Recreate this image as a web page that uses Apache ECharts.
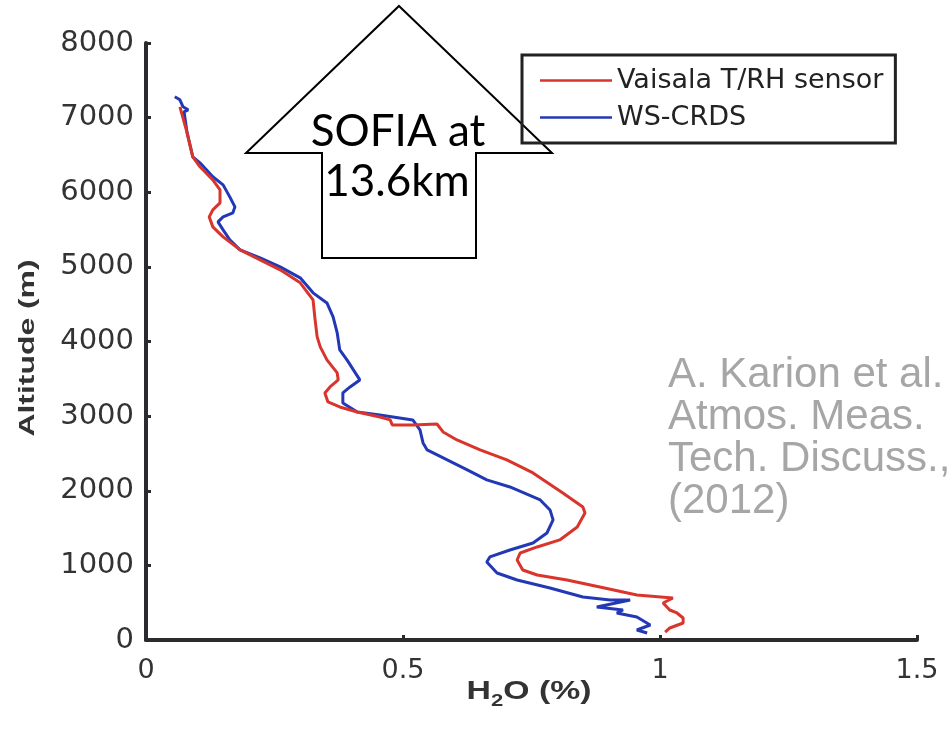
<!DOCTYPE html>
<html>
<head>
<meta charset="utf-8">
<script src="https://cdn.jsdelivr.net/npm/echarts@6/dist/echarts.min.js"></script>
<style>
  html, body { margin: 0; padding: 0; background: #fff; }
  #chart { width: 952px; height: 734px; }
</style>
</head>
<body>
<div id="chart"></div>
<script>
// Vaisala T/RH sensor profile (H2O %, altitude m)
const vaisalaH2O = [0.066, 0.080, 0.091, 0.105, 0.130, 0.144, 0.144, 0.130, 0.123, 0.130,
  0.150, 0.183, 0.222, 0.261, 0.300, 0.325, 0.329, 0.333, 0.339, 0.352,
  0.372, 0.374, 0.358, 0.348, 0.354, 0.377, 0.411, 0.455, 0.475, 0.479,
  0.519, 0.566, 0.578, 0.605, 0.650, 0.702, 0.753, 0.811, 0.850, 0.854,
  0.839, 0.805, 0.761, 0.728, 0.722, 0.733, 0.761, 0.819, 0.883, 0.955,
  1.025, 1.006, 1.019, 1.033, 1.045, 1.045, 1.019, 1.010]
const vaisalaAlt = [7145, 6796, 6475, 6341, 6166, 6032, 5858, 5764, 5670, 5536,
  5402, 5228, 5094, 4960, 4786, 4558, 4290, 4062, 3928, 3753,
  3579, 3485, 3391, 3311, 3190, 3123, 3056, 2989, 2949, 2882,
  2882, 2895, 2788, 2681, 2547, 2413, 2239, 1971, 1783, 1702,
  1515, 1341, 1247, 1166, 1072, 938, 871, 804, 710, 603,
  563, 496, 402, 362, 295, 228, 161, 107]

// WS-CRDS profile
const crdsH2O = [0.056, 0.066, 0.072, 0.082, 0.074, 0.080, 0.091, 0.105, 0.130, 0.150,
  0.163, 0.173, 0.169, 0.150, 0.140, 0.150, 0.163, 0.183, 0.222, 0.261,
  0.300, 0.325, 0.352, 0.364, 0.372, 0.377, 0.391, 0.416, 0.397, 0.383,
  0.383, 0.411, 0.455, 0.519, 0.533, 0.539, 0.547, 0.586, 0.625, 0.663,
  0.708, 0.767, 0.786, 0.792, 0.780, 0.753, 0.708, 0.669, 0.663, 0.683,
  0.722, 0.786, 0.850, 0.903, 0.942, 0.877, 0.928, 0.916, 0.955, 0.981,
  0.955, 0.975]
const crdsAlt = [7279, 7239, 7145, 7105, 7078, 6796, 6475, 6394, 6207, 6099,
  5938, 5804, 5724, 5670, 5603, 5496, 5362, 5228, 5121, 5000,
  4853, 4652, 4517, 4330, 4115, 3887, 3753, 3485, 3391, 3311,
  3177, 3056, 3016, 2949, 2815, 2641, 2547, 2413, 2279, 2145,
  2051, 1877, 1743, 1609, 1434, 1300, 1206, 1113, 1046, 898,
  804, 697, 576, 536, 536, 442, 402, 362, 308, 201,
  134, 94]

const seriesNames = ['Vaisala T/RH sensor', 'WS-CRDS']
const citeLines = ['A. Karion et al.', 'Atmos. Meas.', 'Tech. Discuss.,', '(2012)']

const axisColor = '#2b2b2f'
const tickFont = 'DejaVu Sans'
const pair = (xs, ys) => xs.map((x, i) => [x, ys[i]])

const chart = echarts.init(document.getElementById('chart'))
chart.setOption({
  animation: false,
  backgroundColor: '#fff',
  grid: { left: 146, right: 35, top: 43, bottom: 94 },
  legend: {
    data: seriesNames,
    orient: 'vertical',
    left: 522,
    top: 55,
    z: 10,
    icon: 'rect',
    itemWidth: 72,
    itemHeight: 2.5,
    itemGap: 10,
    padding: [12, 12, 12, 18],
    borderColor: '#222',
    borderWidth: 3,
    textStyle: { fontFamily: tickFont, fontSize: 27, color: '#222' }
  },
  xAxis: {
    type: 'value',
    min: 0,
    max: 1.5,
    interval: 0.5,
    splitLine: { show: false },
    axisLine: { lineStyle: { color: axisColor, width: 4 } },
    axisTick: { inside: true, length: 5, lineStyle: { color: axisColor, width: 3 } },
    axisLabel: { margin: 17, fontFamily: tickFont, fontSize: 27, color: '#333' }
  },
  yAxis: {
    type: 'value',
    min: 0,
    max: 8000,
    interval: 1000,
    splitLine: { show: false },
    axisLine: { lineStyle: { color: axisColor, width: 4 } },
    axisTick: { inside: true, length: 5, lineStyle: { color: axisColor, width: 3 } },
    axisLabel: {
      margin: 12,
      fontFamily: tickFont,
      fontSize: 29,
      color: '#333',
      formatter: v => String(v)
    }
  },
  series: [
    {
      name: seriesNames[1],
      type: 'line',
      data: pair(crdsH2O, crdsAlt),
      showSymbol: false,
      z: 2,
      lineStyle: { color: '#2338b5', width: 3 },
      itemStyle: { color: '#2338b5' }
    },
    {
      name: seriesNames[0],
      type: 'line',
      data: pair(vaisalaH2O, vaisalaAlt),
      showSymbol: false,
      z: 3,
      lineStyle: { color: '#d9352c', width: 3 },
      itemStyle: { color: '#d9352c' }
    }
  ],
  graphic: [
    {
      type: 'text',
      x: 28,
      y: 348,
      rotation: Math.PI / 2,
      scaleX: 1.45,
      style: {
        text: 'Altitude (m)',
        font: 'bold 22px "Liberation Sans"',
        fill: '#333',
        align: 'center',
        verticalAlign: 'middle'
      }
    },
    {
      type: 'text',
      x: 529,
      y: 692,
      scaleX: 1.3,
      style: {
        text: '{b|H}{s|2}{b|O (%)}',
        align: 'center',
        verticalAlign: 'middle',
        rich: {
          b: { font: 'bold 26px "Liberation Sans"', fill: '#333', lineHeight: 30 },
          s: { font: 'bold 17px "Liberation Sans"', fill: '#333', lineHeight: 30, padding: [18, 0, 0, 0] }
        }
      }
    },
    // callout arrow sits under the legend box
    {
      type: 'polygon',
      z: 5,
      shape: {
        points: [[399, 6], [552, 153], [476, 153], [476, 258], [322, 258], [322, 153], [246, 153]]
      },
      style: { fill: '#fff', stroke: '#000', lineWidth: 2 }
    },
    {
      type: 'text',
      z: 6,
      x: 398,
      y: 132,
      style: { text: 'SOFIA at', font: '44px Lato', fill: '#000', align: 'center', verticalAlign: 'middle' }
    },
    {
      type: 'text',
      z: 6,
      x: 397,
      y: 182,
      style: { text: '13.6km', font: '44px Lato', fill: '#000', align: 'center', verticalAlign: 'middle' }
    },
    {
      type: 'text',
      x: 668,
      y: 354,
      style: {
        text: citeLines.join('\n'),
        font: '42px "Liberation Sans"',
        lineHeight: 42,
        fill: '#a6a6a6',
        align: 'left',
        verticalAlign: 'top'
      }
    }
  ]
})
</script>
</body>
</html>
